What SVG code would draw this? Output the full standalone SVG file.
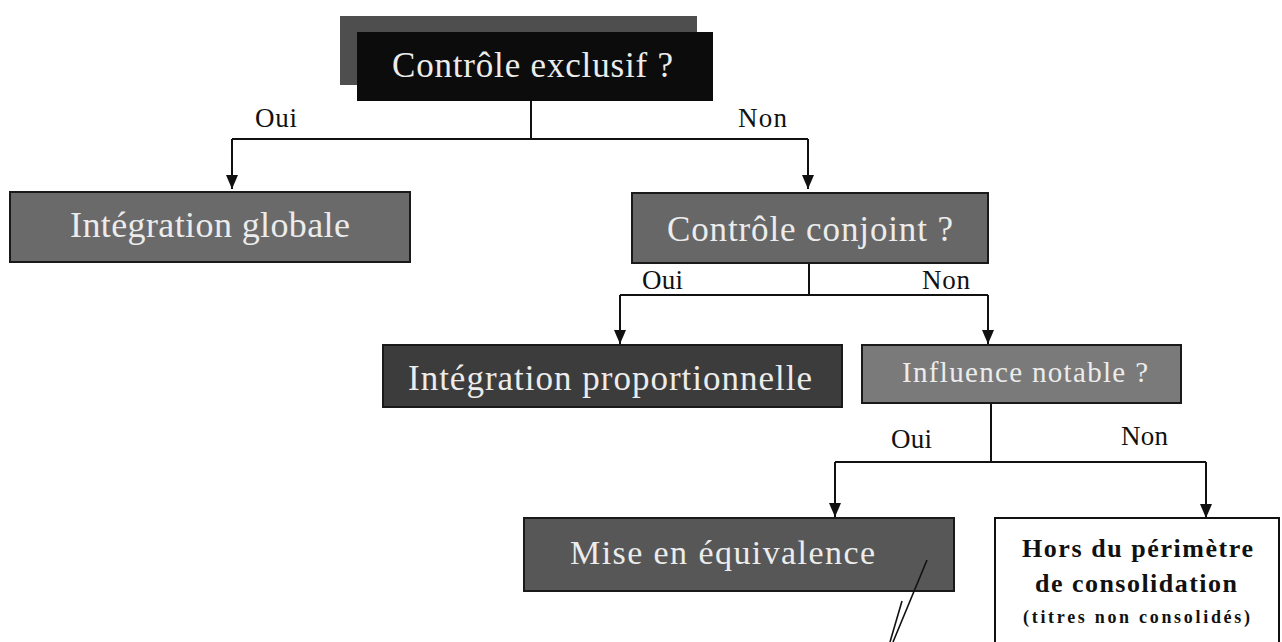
<svg xmlns="http://www.w3.org/2000/svg" width="1282" height="642" viewBox="0 0 1282 642">
<defs>
<marker id="arr" viewBox="0 0 14 12" refX="14" refY="6" markerWidth="14" markerHeight="12" markerUnits="userSpaceOnUse" orient="auto">
<path d="M0,0 L14,6 L0,12 z" fill="#111"/>
</marker>
<style>
.box{stroke:#1a1a1a;stroke-width:2}
.wt{font-family:"Liberation Serif","Times New Roman",serif;fill:#ececec}
.lbl{font-family:"Liberation Serif","Times New Roman",serif;fill:#111;font-size:27px}
.bt{font-family:"Liberation Serif","Times New Roman",serif;fill:#111;font-weight:bold}
.c{fill:none;stroke:#111;stroke-width:2}
</style>
</defs>
<rect width="1282" height="642" fill="#ffffff"/>
<g id="connectors">
<path class="c" d="M531,101 V139"/>
<path class="c" d="M232,139 H808"/>
<path class="c" d="M232,139 V189" marker-end="url(#arr)"/>
<path class="c" d="M808,139 V189" marker-end="url(#arr)"/>
<path class="c" d="M809,263 V295"/>
<path class="c" d="M620,295 H988"/>
<path class="c" d="M620,295 V344" marker-end="url(#arr)"/>
<path class="c" d="M988,295 V344" marker-end="url(#arr)"/>
<path class="c" d="M991,403 V462"/>
<path class="c" d="M835,462 H1206"/>
<path class="c" d="M835,462 V517" marker-end="url(#arr)"/>
<path class="c" d="M1206,462 V518" marker-end="url(#arr)"/>
</g>
<g id="labels">
<text class="lbl" x="255" y="127" textLength="42">Oui</text>
<text class="lbl" x="738" y="127" textLength="49">Non</text>
<text class="lbl" x="642" y="289" textLength="41">Oui</text>
<text class="lbl" x="922" y="289" textLength="48">Non</text>
<text class="lbl" x="891" y="448" textLength="41">Oui</text>
<text class="lbl" x="1121" y="445" textLength="47">Non</text>
</g>
<g id="n-controle-exclusif">
<rect x="340" y="16" width="357" height="69" fill="#4e4e4e"/>
<rect x="357" y="32" width="356" height="69" fill="#0c0c0c"/>
<text class="wt" x="392" y="77" font-size="35" textLength="281">Contrôle exclusif ?</text>
</g>
<g id="n-integration-globale">
<rect class="box" x="10" y="192" width="400" height="70" fill="#6a6a6a"/>
<text class="wt" x="70" y="237" font-size="36" textLength="280">Intégration globale</text>
</g>
<g id="n-controle-conjoint">
<rect class="box" x="632" y="193" width="356" height="70" fill="#676767"/>
<text class="wt" x="667" y="241" font-size="35" textLength="286">Contrôle conjoint ?</text>
</g>
<g id="n-integration-proportionnelle">
<rect class="box" x="383" y="345" width="459" height="62" fill="#3c3c3c"/>
<text class="wt" x="408" y="390" font-size="35" textLength="404">Intégration proportionnelle</text>
</g>
<g id="n-influence-notable">
<rect class="box" x="862" y="345" width="319" height="58" fill="#7a7a7a"/>
<text class="wt" x="902" y="382" font-size="29" textLength="246">Influence notable ?</text>
</g>
<g id="n-mise-en-equivalence">
<rect class="box" x="524" y="518" width="430" height="73" fill="#575757"/>
<text class="wt" x="570" y="564" font-size="34" textLength="305">Mise en équivalence</text>
<path d="M927,560 L893,642 M902,601 L890,642" fill="none" stroke="#111" stroke-width="1.6"/>
</g>
<g id="n-hors-perimetre">
<rect x="995" y="518" width="284" height="140" fill="#ffffff" stroke="#111" stroke-width="2"/>
<text class="bt" x="1022" y="557" font-size="26" textLength="231">Hors du périmètre</text>
<text class="bt" x="1035" y="592" font-size="26" textLength="202">de consolidation</text>
<text class="bt" x="1023" y="623" font-size="18" textLength="227">(titres non consolidés)</text>
</g>
</svg>
